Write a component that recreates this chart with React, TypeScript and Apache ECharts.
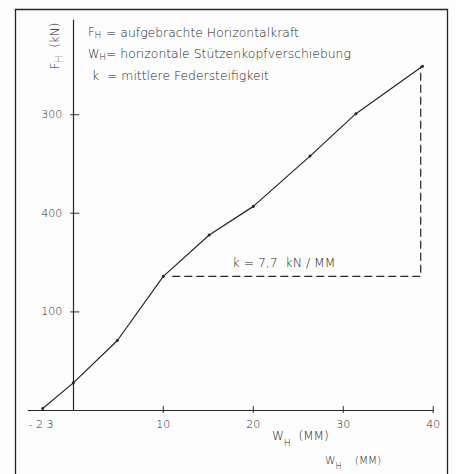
import React, { useEffect, useRef } from "react";
import * as echarts from "echarts";

// measured points: horizontal displacement W_H (mm) and applied force F_H (kN)
const wH = [-3.4, 0, 4.9, 10, 15.1, 20, 26.3, 31.4, 38.8];
const fH = [2, 28, 71, 136, 178, 207, 258, 301, 349];
// stiffness triangle
const stiffW = [11, 38.6, 38.6];
const stiffF = [136, 136, 349];
// axis ticks and labels (as printed)
const xTickValues = [10, 20, 30, 40];
const xLabelValues = [-3.6, 10, 20, 30, 40];
const xLabelTexts = ["- 2 3", "10", "20", "30", "40"];
const yTickValues = [100, 200, 300];
const yLabelTexts = ["100", "400", "300"];

const INK = "#262626";
const FONT = "'DejaVu Sans', sans-serif";

function rt(x: number, y: number, text: string, size: number, subShift: number, extra: any = {}) {
  return {
    type: "text",
    x,
    y,
    silent: true,
    ...extra,
    style: {
      text,
      fontSize: size,
      fontFamily: FONT,
      fontWeight: 200,
      fill: INK,
      verticalAlign: "middle",
      align: extra.align || "left",
      rich: {
        m: { fontSize: size, fontFamily: FONT, fontWeight: 200, fill: INK },
        s: { fontSize: size * 0.78, fontFamily: FONT, fontWeight: 200, fill: INK, padding: [subShift * 2, 0, 0, 0] },
      },
    },
  };
}

export default function App() {
  const ref = useRef<HTMLDivElement>(null);
  useEffect(() => {
    const chart = echarts.init(ref.current!, null, { renderer: "svg" });
    const xTicks = xTickValues.map((v) => [v, 0]);
    const yTicks = yTickValues.map((v) => [0, v]);
    const curve = wH.map((w, i) => [w, fH[i]]);
    const stiff = stiffW.map((w, i) => [w, stiffF[i]]);
    chart.setOption({
      animation: false,
      backgroundColor: "#fdfdfd",
      grid: { left: 28.3, right: 22.7, top: 20, bottom: 63.5, containLabel: false, outerBoundsMode: "none" },
      xAxis: {
        type: "value",
        min: -5,
        max: 40,
        axisLine: { onZero: true, lineStyle: { color: INK, width: 1.2 } },
        axisTick: { show: false },
        splitLine: { show: false },
        axisLabel: {
          customValues: xLabelValues,
          margin: 8,
          color: INK,
          fontSize: 11,
          fontFamily: FONT,
          fontWeight: 200,
          formatter: (v: number) => {
            const i = xLabelValues.indexOf(v);
            return i >= 0 ? xLabelTexts[i] : "";
          },
        },
      },
      yAxis: {
        type: "value",
        min: 0,
        max: 396,
        axisLine: { show: true, onZero: true, lineStyle: { color: INK, width: 1.2 } },
        axisTick: { show: false },
        splitLine: { show: false },
        axisLabel: {
          customValues: yTickValues,
          margin: -34,
          color: INK,
          fontSize: 11,
          fontFamily: FONT,
          fontWeight: 200,
          formatter: (v: number) => {
            const i = yTickValues.indexOf(v);
            return i >= 0 ? yLabelTexts[i] : "";
          },
        },
      },
      series: [
        {
          type: "line",
          data: curve,
          clip: false,
          symbol: "circle",
          symbolSize: 3,
          showSymbol: true,
          lineStyle: { color: INK, width: 1.2 },
          itemStyle: { color: INK },
          silent: true,
        },
        {
          type: "line",
          data: stiff,
          clip: false,
          symbol: "none",
          lineStyle: { color: INK, width: 1.2, type: [8, 4] },
          silent: true,
        },
        {
          type: "scatter",
          data: xTicks,
          clip: false,
          symbol: "rect",
          symbolSize: [1.2, 7],
          symbolOffset: [0, -1],
          itemStyle: { color: INK },
          silent: true,
        },
        {
          type: "scatter",
          data: yTicks,
          clip: false,
          symbol: "rect",
          symbolSize: [9, 1.2],
          symbolOffset: [1.5, 0],
          itemStyle: { color: INK },
          silent: true,
        },
      ],
      graphic: [
        {
          type: "rect",
          silent: true,
          shape: { x: 15.5, y: 9.5, width: 432, height: 480 },
          style: { fill: "none", stroke: INK, lineWidth: 1.3 },
        },
        rt(88, 32, "{m|F}{s|H}", 11.5, 3),
        rt(106, 32, "= aufgebrachte Horizontalkraft", 12.4, 3),
        rt(88, 53.5, "{m|W}{s|H}", 11.5, 3),
        rt(106, 53.5, "= horizontale Stützenkopfverschiebung", 12.4, 3),
        rt(92, 75, "k", 12.4, 3),
        rt(107, 75, "= mittlere Federsteifigkeit", 12.4, 3),
        rt(284, 262, "k = 7,7  kN / MM", 12.4, 3, { align: "center" }),
        rt(55, 46, "{m|F}{s|H}  (kN)", 12, 3, { align: "center", rotation: Math.PI / 2 }),
        rt(272, 436, "{m|W}{s|H}  (MM)", 12, 6),
        rt(325, 460, "{m|W}{s|H}    (MM)", 10.5, 6),
      ],
    });
    return () => chart.dispose();
  }, []);
  return (
    <div
      ref={ref}
      style={{ position: "absolute", left: 0, top: 0, width: 456, height: 474 }}
    />
  );
}
